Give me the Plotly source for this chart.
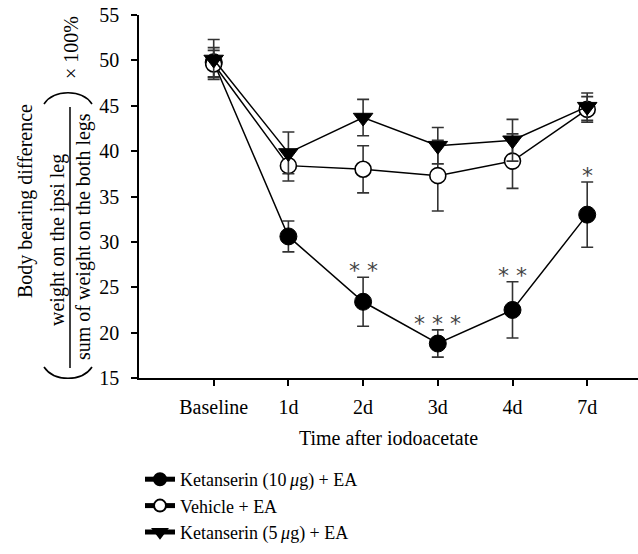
import plotly.graph_objects as go

# ---- data ----
categories = ["Baseline", "1d", "2d", "3d", "4d", "7d"]

ket10_mean = [49.8, 30.6, 23.4, 18.8, 22.5, 33.0]
ket10_err = [1.6, 1.7, 2.7, 1.5, 3.1, 3.6]

vehicle_mean = [49.6, 38.4, 38.0, 37.3, 38.9, 44.6]
vehicle_err = [1.5, 1.7, 2.6, 3.9, 3.0, 1.4]

ket5_mean = [50.1, 39.8, 43.7, 40.6, 41.2, 44.9]
ket5_err = [2.2, 2.3, 2.0, 2.0, 2.3, 1.5]

sig_labels = ["", "", "*\u00a0*", "*\u00a0*\u00a0*", "*\u00a0*", "*"]

series_names = ["Ketanserin (10\u2009<i>\u03bc</i>g) + EA", "Vehicle + EA",
                "Ketanserin (5\u2009<i>\u03bc</i>g) + EA"]

FONT = "Liberation Serif"
FS = 20

fig = go.Figure()

err_style = dict(type="data", visible=True, color="#333333", thickness=1.6, width=6)

fig.add_trace(go.Scatter(
    x=categories, y=ket10_mean, name=series_names[0], mode="lines+markers",
    line=dict(color="black", width=1.5),
    marker=dict(symbol="circle", size=17, color="black", line=dict(color="black", width=1)),
    error_y=dict(array=ket10_err, **err_style),
))
fig.add_trace(go.Scatter(
    x=categories, y=vehicle_mean, name=series_names[1], mode="lines+markers",
    line=dict(color="black", width=1.5),
    marker=dict(symbol="circle", size=16, color="white", line=dict(color="black", width=1.6)),
    error_y=dict(array=vehicle_err, **err_style),
))
fig.add_trace(go.Scatter(
    x=categories, y=ket5_mean, name=series_names[2], mode="lines+markers",
    line=dict(color="black", width=1.5),
    marker=dict(symbol="triangle-down", size=17, color="black", line=dict(color="black", width=1)),
    error_y=dict(array=ket5_err, **err_style),
))

# significance marks above the Ketanserin (10 ug) error bars
for c, m, e, s in zip(categories, ket10_mean, ket10_err, sig_labels):
    if s:
        fig.add_annotation(x=c, y=m + e, text=s, showarrow=False, xref="x", yref="y",
                           xanchor="center", yanchor="bottom", yshift=-8,
                           font=dict(family="DejaVu Sans", size=22, color="#444444"))

# ---- y-axis composite title ----
X0, W, YB, H = 139, 499, 378, 363
def px(x):
    return (x - X0) / W
def py(y):
    return (YB - y) / H

def ylab(xc, yc, text):
    fig.add_annotation(x=px(xc), y=py(yc), xref="paper", yref="paper", text=text,
                       xanchor="center", yanchor="middle", textangle=-90, showarrow=False,
                       font=dict(family=FONT, size=FS, color="black"))

ylab(25, 201, "Body bearing difference")
ylab(58, 240, "weight on the ipsi leg")
ylab(83, 237, "sum of weight on the both legs")
ylab(71, 48, "\u00d7 100%")
fig.add_shape(type="line", xref="paper", yref="paper", x0=px(70), x1=px(70), y0=py(368), y1=py(107),
              line=dict(color="black", width=1.5))
# parentheses
def bez(xa, ya, cx1, cy1, cx2, cy2, xb, yb):
    return (f"M {px(xa)},{py(ya)} C {px(cx1)},{py(cy1)} {px(cx2)},{py(cy2)} {px(xb)},{py(yb)}")
fig.add_shape(type="path", xref="paper", yref="paper",
              path=bez(44, 367, 54, 382, 82, 382, 92, 367), line=dict(color="black", width=1.6))
fig.add_shape(type="path", xref="paper", yref="paper",
              path=bez(44, 104, 54, 89, 82, 89, 92, 104), line=dict(color="black", width=1.6))

fig.update_layout(
    width=638, height=554,
    margin=dict(l=139, r=0, t=15, b=176, autoexpand=False),
    paper_bgcolor="white", plot_bgcolor="white",
    font=dict(family=FONT, size=FS, color="black"),
    showlegend=True,
    legend=dict(x=140 / 638, y=1 - 461 / 554, xref="container", yref="container",
                xanchor="left", yanchor="top", itemsizing="constant",
                font=dict(family=FONT, size=18, color="black"),
                bgcolor="rgba(0,0,0,0)", tracegroupgap=0),
    xaxis=dict(
        type="category", range=[-1, 5.68], automargin=False,
        showline=True, linecolor="black", linewidth=1.5,
        ticks="outside", ticklen=6, tickwidth=1.5, tickcolor="black",
        showgrid=False, zeroline=False, ticklabelstandoff=4,
        title=dict(text="Time after iodoacetate", standoff=14, font=dict(family=FONT, size=FS)),
    ),
    yaxis=dict(
        range=[15, 55], dtick=5, automargin=False,
        showline=True, linecolor="black", linewidth=1.5,
        ticks="outside", ticklen=6, tickwidth=1.5, tickcolor="black",
        showgrid=False, zeroline=False, ticklabelstandoff=8,
    ),
)

fig.write_html("out.html")
